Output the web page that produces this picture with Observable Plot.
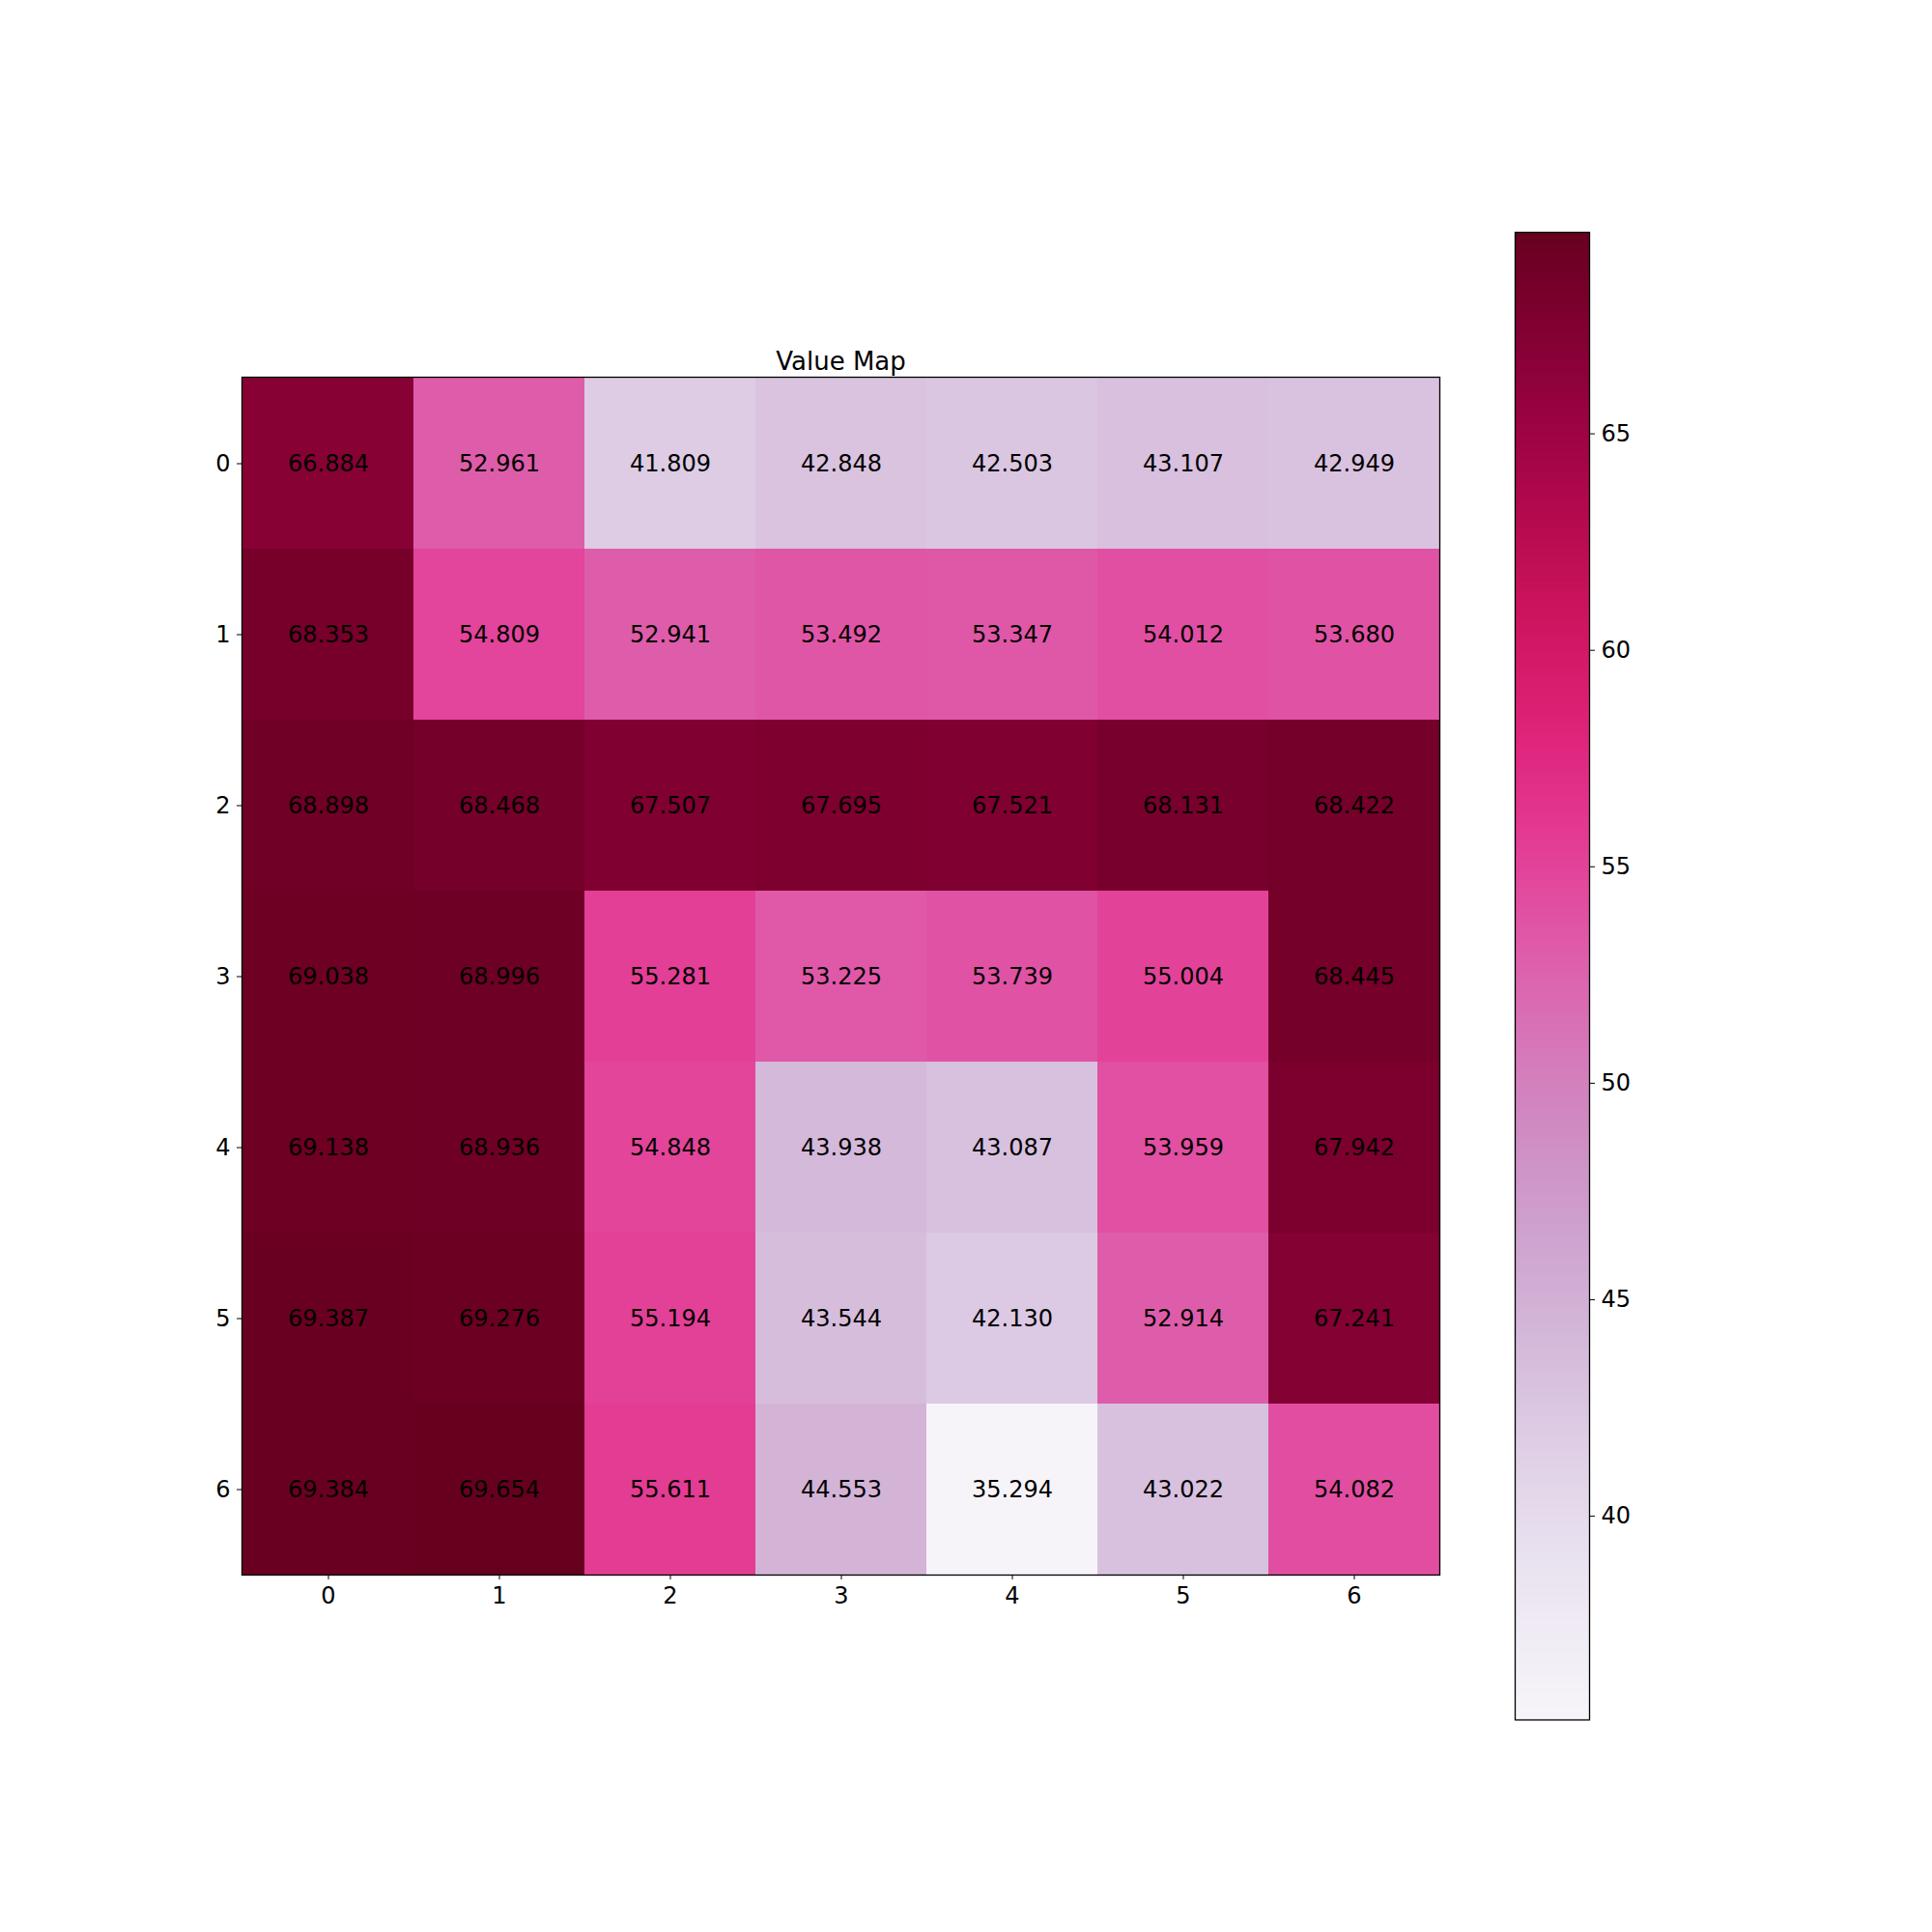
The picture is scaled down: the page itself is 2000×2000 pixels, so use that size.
<!DOCTYPE html>
<html>
<head>
<meta charset="utf-8">
<script src="https://cdn.jsdelivr.net/npm/d3@7"></script>
<script src="https://cdn.jsdelivr.net/npm/@observablehq/plot@0.6"></script>
<style>
  html, body { margin: 0; padding: 0; background: white; }
  #wrap { position: relative; width: 2000px; height: 2000px; font-family: "DejaVu Sans", sans-serif; }
  #wrap svg { position: absolute; left: 0; top: 0; }
</style>
</head>
<body>
<div id="wrap"></div>
<script>
const title = "Value Map";
const rowLabels = [0, 1, 2, 3, 4, 5, 6];
const colLabels = [0, 1, 2, 3, 4, 5, 6];
const row0 = [66.884, 52.961, 41.809, 42.848, 42.503, 43.107, 42.949];
const row1 = [68.353, 54.809, 52.941, 53.492, 53.347, 54.012, 53.680];
const row2 = [68.898, 68.468, 67.507, 67.695, 67.521, 68.131, 68.422];
const row3 = [69.038, 68.996, 55.281, 53.225, 53.739, 55.004, 68.445];
const row4 = [69.138, 68.936, 54.848, 43.938, 43.087, 53.959, 67.942];
const row5 = [69.387, 69.276, 55.194, 43.544, 42.130, 52.914, 67.241];
const row6 = [69.384, 69.654, 55.611, 44.553, 35.294, 43.022, 54.082];
const colorbarTicks = [40, 45, 50, 55, 60, 65];

const rows = [row0, row1, row2, row3, row4, row5, row6];
const cells = [];
rows.forEach((r, i) => r.forEach((v, j) => cells.push({row: rowLabels[i], col: colLabels[j], value: v})));
const vmin = d3.min(cells, d => d.value);
const vmax = d3.max(cells, d => d.value);

const colorScale = {type: "linear", scheme: "purd", domain: [vmin, vmax]};
const FONT = "DejaVu Sans, sans-serif";

const heat = Plot.plot({
  width: 2000,
  height: 2000,
  marginLeft: 250,
  marginRight: 510,
  marginTop: 390,
  marginBottom: 370,
  style: {fontFamily: FONT, fontSize: "23px", color: "black", background: "transparent"},
  x: {domain: colLabels, padding: 0, label: null},
  y: {domain: rowLabels, padding: 0, label: null},
  color: colorScale,
  marks: [
    Plot.cell(cells, {x: "col", y: "row", fill: "value", inset: 0}),
    Plot.text(cells, {x: "col", y: "row", text: d => d.value.toFixed(3), fill: "black", fontSize: 24}),
    Plot.frame({stroke: "black", strokeWidth: 1.3}),
    Plot.axisX({tickSize: 5, tickPadding: 7, fontSize: 24, label: null, stroke: "black", fill: "black"}),
    Plot.axisY({tickSize: 5, tickPadding: 7, fontSize: 24, label: null, stroke: "black", fill: "black"}),
    Plot.text([title], {frameAnchor: "top", dy: -8, lineAnchor: "bottom", fontSize: 26, fill: "black"})
  ]
});

const stripes = d3.range(vmin, vmax, (vmax - vmin) / 400).map(v => ({lo: v, hi: Math.min(vmax, v + (vmax - vmin) / 400 * 1.5)}));

const bar = Plot.plot({
  width: 2000,
  height: 2000,
  marginLeft: 1568,
  marginRight: 355,
  marginTop: 240,
  marginBottom: 220,
  style: {fontFamily: FONT, fontSize: "23px", color: "black", background: "transparent"},
  x: {domain: [0, 1], axis: null},
  y: {type: "linear", domain: [vmin, vmax], axis: null},
  color: colorScale,
  marks: [
    Plot.rect(stripes, {x1: 0, x2: 1, y1: "lo", y2: "hi", fill: "lo"}),
    Plot.frame({stroke: "black", strokeWidth: 1.3}),
    Plot.axisY({anchor: "right", ticks: colorbarTicks, tickSize: 5, tickPadding: 7, fontSize: 24, label: null, tickFormat: d => String(d), stroke: "black", fill: "black"})
  ]
});

const wrap = document.getElementById("wrap");
wrap.appendChild(heat);
wrap.appendChild(bar);
</script>
</body>
</html>
